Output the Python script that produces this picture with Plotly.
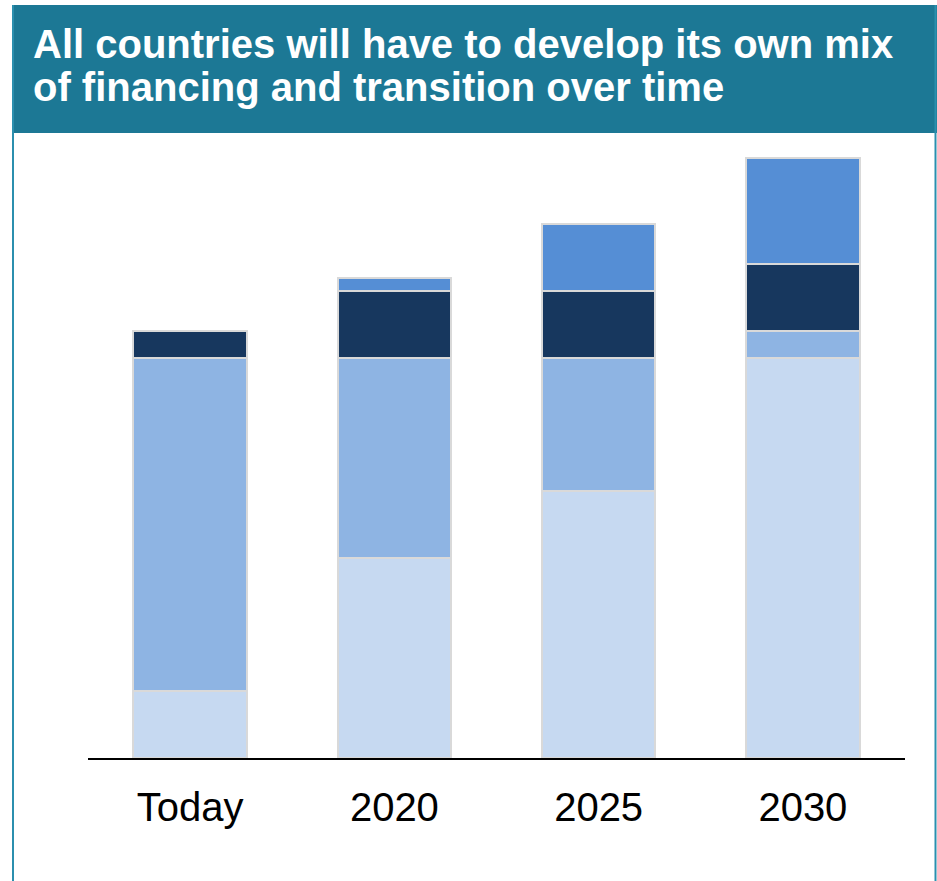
import plotly.graph_objects as go

W, H = 937, 881

categories = ["Today", "2020", "2025", "2030"]
domestic = [10, 30, 40, 60]
external = [50, 30, 20, 4]
blended = [4, 10, 10, 10]
private = [0, 2, 10, 16]

series = [
    ("Domestic", domestic, "#c6d9f1"),
    ("External", external, "#8eb4e3"),
    ("Blended", blended, "#17375e"),
    ("Private", private, "#558ed5"),
]

title_lines = [
    "All countries will have to develop its own mix",
    "of financing and transition over time",
]

fig = go.Figure()
for name, vals, color in series:
    fig.add_trace(go.Bar(
        x=categories, y=vals, name=name,
        marker=dict(color=color, line=dict(color="#d9d9d9", width=2)),
        width=0.555,
        hoverinfo="x+y+name",
    ))

def px_x(v):
    return v / W

def px_y(v):
    return 1 - v / H

title_font = dict(size=40, color="white", family="Liberation Sans, Arial, sans-serif")
title_annotations = [
    dict(text="<b>" + line + "</b>", xref="paper", yref="paper",
         x=px_x(31), y=px_y(top), xanchor="left", yanchor="top",
         align="left", showarrow=False, font=title_font)
    for line, top in zip(title_lines, [20, 63])
]

fig.update_layout(
    width=W, height=H,
    barmode="stack",
    showlegend=False,
    margin=dict(l=0, r=0, t=0, b=0),
    paper_bgcolor="white",
    plot_bgcolor="white",
    font=dict(family="Liberation Sans, Arial, sans-serif", color="black"),
    xaxis=dict(
        domain=[px_x(88), px_x(905)],
        range=[-0.5, 3.5],
        showline=True, linecolor="black", linewidth=2,
        showgrid=False, zeroline=False, ticks="",
        tickfont=dict(size=40, color="black"),
        ticklabelstandoff=13,
        fixedrange=True,
    ),
    yaxis=dict(
        domain=[px_y(758), px_y(91)],
        range=[0, 100],
        visible=False,
        fixedrange=True,
    ),
    shapes=[
        # panel border
        dict(type="line", xref="paper", yref="paper",
             x0=px_x(13), x1=px_x(13), y0=0, y1=px_y(5),
             line=dict(color="#2b8fae", width=2)),
        dict(type="line", xref="paper", yref="paper",
             x0=px_x(935.5), x1=px_x(935.5), y0=0, y1=px_y(5),
             line=dict(color="#2b8fae", width=2)),
        # title banner
        dict(type="rect", xref="paper", yref="paper",
             x0=px_x(12), x1=1, y0=px_y(133), y1=px_y(5),
             fillcolor="#1c7895", line=dict(width=0), layer="below"),
    ],
    annotations=title_annotations,
)

fig.write_html("out.html")
